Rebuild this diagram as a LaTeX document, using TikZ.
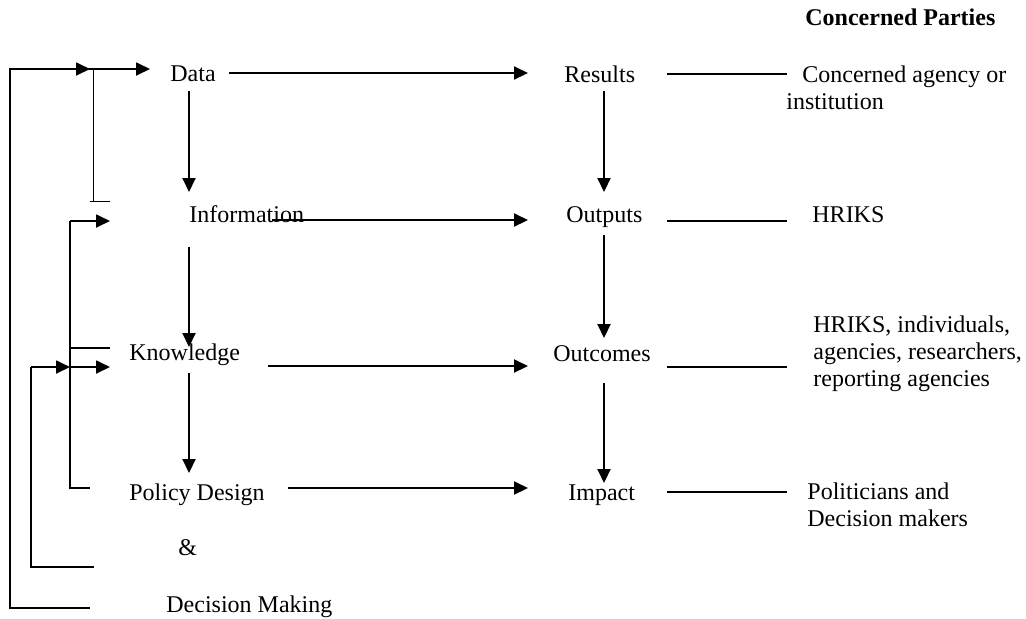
\documentclass[tikz,border=0pt]{standalone}
\usepackage{fontspec}
\setmainfont{Liberation Serif}
\usetikzlibrary{arrows.meta}
\begin{document}
\begin{tikzpicture}[x=0.5pt,y=-0.5pt,
  lbl/.style={inner sep=0pt,anchor=base west,font=\fontsize{12}{13.8}\selectfont},
  flow/.style={line width=1pt,-{Triangle[length=7pt,width=6.5pt]}},
  feed/.style={line width=0.6pt},
  feedarrow/.style={line width=0.9pt,-{Triangle[length=7pt,width=6.5pt]}},
  party/.style={line width=0.7pt}]
\useasboundingbox (0,0) rectangle (1026,618);
% labels
\node[lbl] (data) at (170,81) {Data};
\node[lbl] (info) at (189,222) {Information};
\node[lbl] (know) at (129,360) {Knowledge};
\node[lbl] (policy) at (129,500) {Policy Design};
\node[lbl] (amp) at (178,555) {\&};
\node[lbl] (decision) at (166,612) {Decision Making};
\node[lbl] (results) at (564,82) {Results};
\node[lbl] (outputs) at (566,222) {Outputs};
\node[lbl] (outcomes) at (553,361) {Outcomes};
\node[lbl] (impact) at (568,500) {Impact};
\node[lbl,font=\fontsize{12}{13.8}\selectfont\bfseries] (title) at (805,25) {Concerned Parties};
\node[lbl] (p1a) at (802,82) {Concerned agency or};
\node[lbl] (p1b) at (786,109) {institution};
\node[lbl] (p2) at (812,222) {HRIKS};
\node[lbl] (p3a) at (813,332) {HRIKS, individuals,};
\node[lbl] (p3b) at (813,359) {agencies, researchers,};
\node[lbl] (p3c) at (813,386) {reporting agencies};
\node[lbl] (p4a) at (807,499) {Politicians and};
\node[lbl] (p4b) at (807,526) {Decision makers};
% coordinates
\coordinate (dR0) at (229,73);  \coordinate (dR1) at (528,73);
\coordinate (iO0) at (272,220); \coordinate (iO1) at (528,220);
\coordinate (kO0) at (268,366); \coordinate (kO1) at (528,366);
\coordinate (pI0) at (288,488); \coordinate (pI1) at (528,488);
\coordinate (dI0) at (189,91);  \coordinate (dI1) at (189,192);
\coordinate (iK0) at (189,247); \coordinate (iK1) at (189,347);
\coordinate (kP0) at (189,373); \coordinate (kP1) at (189,473);
\coordinate (rO0) at (604,91);  \coordinate (rO1) at (604,192);
\coordinate (oO0) at (604,235); \coordinate (oO1) at (604,338);
\coordinate (oI0) at (604,383); \coordinate (oI1) at (604,483);
\coordinate (rL0) at (667,74);  \coordinate (rL1) at (787,74);
\coordinate (oL0) at (667,221); \coordinate (oL1) at (787,221);
\coordinate (cL0) at (667,367); \coordinate (cL1) at (787,367);
\coordinate (mL0) at (667,492); \coordinate (mL1) at (787,492);
% feedback coordinates
\coordinate (fa0) at (90,608); \coordinate (fa1) at (10,608); \coordinate (fa2) at (10,69);
\coordinate (fa3) at (90,69); \coordinate (fa4) at (150,69);
\coordinate (fb0) at (93,69); \coordinate (fb1) at (93,201);
\coordinate (fb2) at (90,201); \coordinate (fb3) at (110,201);
\coordinate (fc0) at (90,488); \coordinate (fc1) at (70,488); \coordinate (fc2) at (70,221);
\coordinate (fc3) at (110,221);
\coordinate (fd0) at (70,348); \coordinate (fd1) at (110,348);
\coordinate (fe0) at (94,567); \coordinate (fe1) at (31,567); \coordinate (fe2) at (31,367);
\coordinate (fe3) at (70,367); \coordinate (fe4) at (110,367);
% main flows
\draw[flow] (dR0) -- (dR1);
\draw[flow] (iO0) -- (iO1);
\draw[flow] (kO0) -- (kO1);
\draw[flow] (pI0) -- (pI1);
\draw[flow] (dI0) -- (dI1);
\draw[flow] (iK0) -- (iK1);
\draw[flow] (kP0) -- (kP1);
\draw[flow] (rO0) -- (rO1);
\draw[flow] (oO0) -- (oO1);
\draw[flow] (oI0) -- (oI1);
% party lines
\draw[party] (rL0) -- (rL1);
\draw[party] (oL0) -- (oL1);
\draw[party] (cL0) -- (cL1);
\draw[party] (mL0) -- (mL1);
% feedback loops
\draw[feed] (fa0) -- (fa1) -- (fa2) -- (fa3);
\draw[feedarrow] (fa2) -- (fa3);
\draw[feedarrow] (fa3) -- (fa4);
\draw[line width=0.5pt] (fb0) -- (fb1);
\draw[line width=0.5pt] (fb2) -- (fb3);
\draw[feed] (fc0) -- (fc1) -- (fc2);
\draw[feedarrow] (fc2) -- (fc3);
\draw[feed] (fd0) -- (fd1);
\draw[feed] (fe0) -- (fe1) -- (fe2);
\draw[feedarrow] (fe2) -- (fe3);
\draw[feedarrow] (fe3) -- (fe4);
\end{tikzpicture}
\end{document}
